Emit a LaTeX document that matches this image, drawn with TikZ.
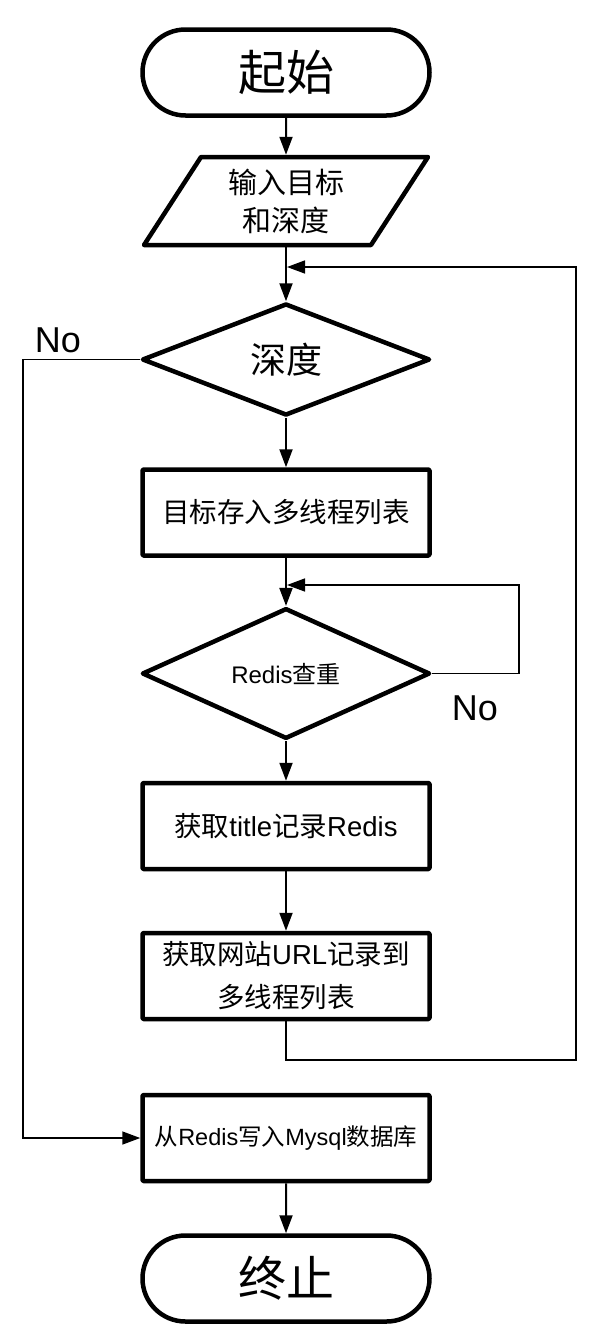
\documentclass[tikz,border=0pt]{standalone}
\usepackage{fontspec}
\setmainfont{Noto Sans CJK SC}
\newfontfamily\latfont{Liberation Sans}
\newcommand\Lat[1]{{\latfont #1}}
\usetikzlibrary{shapes.geometric,shapes.misc,arrows.meta}
\begin{document}
\begin{tikzpicture}[x=1pt,y=-1pt,
  shp/.style={draw, line width=4.5pt, line join=round, inner sep=0pt, align=center},
  term/.style={shp, rounded rectangle, minimum width=287pt, minimum height=86pt, font=\fontsize{48}{52}\selectfont},
  boxn/.style={shp, rectangle, minimum width=287pt, minimum height=86pt, rounded corners=1pt},
  dia/.style={shp, diamond, minimum width=288pt, minimum height=112pt},
  conn/.style={line width=2pt, -{Triangle[length=18pt,width=13pt]}},
  loopc/.style={line width=1.5pt},
  loopa/.style={line width=1.5pt, -{Triangle[length=18pt,width=13pt]}},
  lbl/.style={font=\latfont\fontsize{36}{40}\selectfont, inner sep=0pt}]
\useasboundingbox (0,0) rectangle (592,1336);

\node[term] (start) at (286,72.5) {起始};
\node[inner sep=0pt, outer sep=2.25pt, minimum width=230pt, minimum height=88pt, align=center,
      font=\fontsize{29}{38}\selectfont] (inp) at (286,201) {输入目标\\和深度};
\draw[line width=4.5pt, line join=round] (201,157) -- (428,157) -- (371,245) -- (144,245) -- cycle;
\node[dia, font=\fontsize{36}{40}\selectfont] (d1) at (286,359.5) {深度};
\node[boxn, font=\fontsize{27.5}{32}\selectfont] (b1) at (286,512.5) {目标存入多线程列表};
\node[dia, font=\fontsize{24}{28}\selectfont] (d2) at (286,673.5) {\Lat{Redis}查重};
\node[boxn, font=\fontsize{27.5}{32}\selectfont] (b2) at (286,826) {获取\Lat{title}记录\Lat{Redis}};
\node[boxn, font=\fontsize{27.5}{43}\selectfont] (b3) at (286,976) {获取网站\Lat{URL}记录到\\多线程列表};
\node[boxn, font=\fontsize{23.5}{28}\selectfont] (b4) at (286,1138) {从\Lat{Redis}写入\Lat{Mysql}数据库};
\node[term] (stop) at (286,1278.5) {终止};

\node[lbl] (no1) at (58,340) {No};
\node[lbl] (no2) at (475,708) {No};

\coordinate (fbB) at (286,1060);
\coordinate (fbR) at (576,267);
\coordinate (fbT) at (287,267);
\coordinate (lpR) at (519,585);
\coordinate (lpT) at (287,585);
\coordinate (nl) at (23,359.5);

\draw[conn] (start) -- (inp);
\draw[conn] (inp) -- (d1);
\draw[conn] (d1) -- (b1);
\draw[conn] (b1) -- (d2);
\draw[conn] (d2) -- (b2);
\draw[conn] (b2) -- (b3);
\draw[conn] (b4) -- (stop);

\draw[loopa] (b3.south) -- (fbB) -| (fbR) -- (fbT);
\draw[loopa] (d2.east) -| (lpR) -- (lpT);
\draw[loopa] (d1.west) -- (nl) |- (b4.west);
\end{tikzpicture}
\end{document}
